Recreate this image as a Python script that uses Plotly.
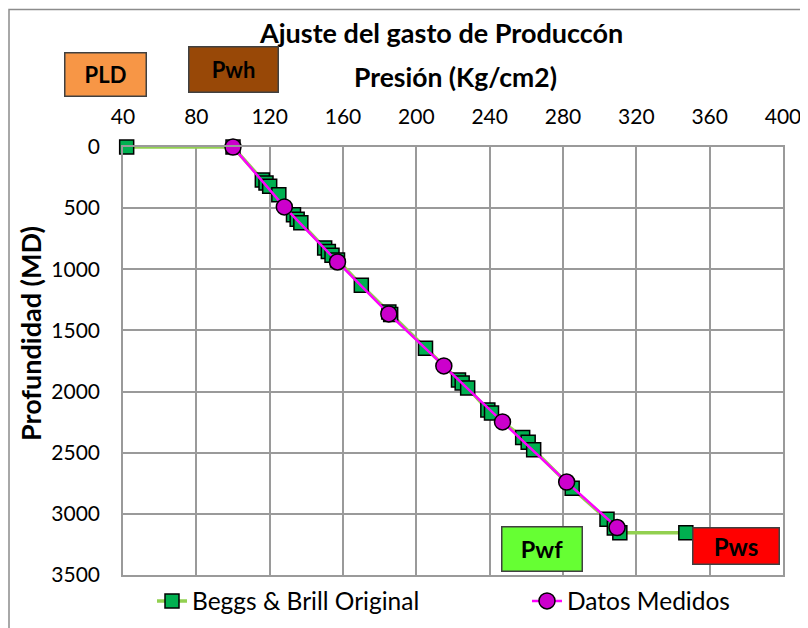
import plotly.graph_objects as go

# Datos: Beggs & Brill Original (presión kg/cm2, profundidad MD)
bb_presion = [42, 100, 116, 118, 120, 125, 133, 135, 137, 150, 152, 154, 157, 170,
              185, 186, 205, 223, 225, 228, 239, 241, 258, 261, 264, 285, 304, 308,
              311, 347]
bb_prof = [0, 0, 270, 295, 320, 390, 555, 590, 620, 825, 855, 885, 925, 1130,
           1350, 1370, 1645, 1905, 1930, 1970, 2150, 2175, 2375, 2415, 2475, 2790,
           3045, 3115, 3155, 3155]

# Datos medidos
med_presion = [100, 128, 157, 185, 215, 247, 282, 309.5]
med_prof = [0, 490, 940, 1365, 1790, 2248, 2740, 3112]

x_ticks = [40, 80, 120, 160, 200, 240, 280, 320, 360, 400]
y_ticks = [0, 500, 1000, 1500, 2000, 2500, 3000, 3500]

fuente = "Lato"

fig = go.Figure()
fig.add_trace(go.Scatter(
    x=bb_presion, y=bb_prof, mode="lines+markers", name="Beggs & Brill Original",
    line=dict(color="#92D050", width=3.5),
    marker=dict(symbol="square", size=14, color="#00B050",
                line=dict(color="#000000", width=1.5)),
    legend="legend", cliponaxis=False,
))
fig.add_trace(go.Scatter(
    x=med_presion, y=med_prof, mode="lines+markers", name="Datos Medidos",
    line=dict(color="#FF00FF", width=2.5),
    marker=dict(symbol="circle", size=16, color="#CC00CC",
                line=dict(color="#000000", width=1.5)),
    legend="legend2", cliponaxis=False,
))

# Área del gráfico en píxeles de pantalla (la página tiene 8 px de margen)
OFF = 8
L, R, T, B = 123, 783, 147, 575
W, H = R - L, B - T
FW, FH = 808 - OFF, 628 - OFF


def px(x):
    return (x - L) / W


def py(y):
    return (B - y) / H


anot = []
# Título y títulos de ejes
anot.append(dict(text="<b>Ajuste del gasto de Produccón</b>", x=px(441), y=py(32),
                 font=dict(size=27, color="black")))
anot.append(dict(text="<b>Presión (Kg/cm2)</b>", x=px(455), y=py(77),
                 font=dict(size=26.5, color="black")))
anot.append(dict(text="<b>Profundidad (MD)</b>", x=px(30), y=py(334), textangle=-90,
                 font=dict(size=27, color="black")))

# Cajas de etiquetas
cajas = [
    ("PLD", 105, 74, 80, 42, "#F79646", 22),
    ("Pwh", 233, 70, 88, 44, "#984807", 22),
    ("Pwf", 542, 549, 79, 43, "#66FF33", 23.5),
    ("Pws", 736, 546, 85, 35, "#FF0000", 24),
]
for txt, cx, cy, w, h, col, fs in cajas:
    anot.append(dict(text=f"<b>{txt}</b>", x=px(cx), y=py(cy), width=w, height=h,
                     bgcolor=col, bordercolor="#404040", borderwidth=1.5, borderpad=0,
                     font=dict(size=fs, color="black")))

for a in anot:
    a.update(xref="paper", yref="paper", showarrow=False,
             xanchor="center", yanchor="middle")

ley = dict(orientation="h", xanchor="left", y=py(601), yanchor="middle",
           font=dict(size=24.5), bgcolor="rgba(0,0,0,0)")

fig.update_layout(
    width=FW, height=FH,
    margin=dict(l=L - OFF, r=FW - (R - OFF), t=T - OFF, b=FH - (B - OFF),
                autoexpand=False),
    paper_bgcolor="white", plot_bgcolor="white",
    font=dict(family=fuente, size=21, color="black"),
    annotations=anot,
    showlegend=True,
    legend=dict(ley, x=px(152)),
    legend2=dict(ley, x=px(527)),
    shapes=[dict(type="rect", xref="paper", yref="paper",
                 x0=px(9), x1=px(840), y0=py(660), y1=py(9.5),
                 line=dict(color="#8C8C8C", width=1.5))],
    xaxis=dict(side="top", range=[40, 400], tickvals=x_ticks, showgrid=True,
               gridcolor="#9A9A9A", gridwidth=1.5, zeroline=False, showline=True,
               linecolor="#9A9A9A", linewidth=1.5, mirror=True, ticks="",
               tickfont=dict(size=21), ticklabelstandoff=13),
    yaxis=dict(range=[3500, 0], tickvals=y_ticks, showgrid=True,
               gridcolor="#9A9A9A", gridwidth=1.5, zeroline=False, showline=True,
               linecolor="#9A9A9A", linewidth=1.5, mirror=True, ticks="",
               tickfont=dict(size=21), ticklabelstandoff=17),
)

fig.write_html("out.html")
